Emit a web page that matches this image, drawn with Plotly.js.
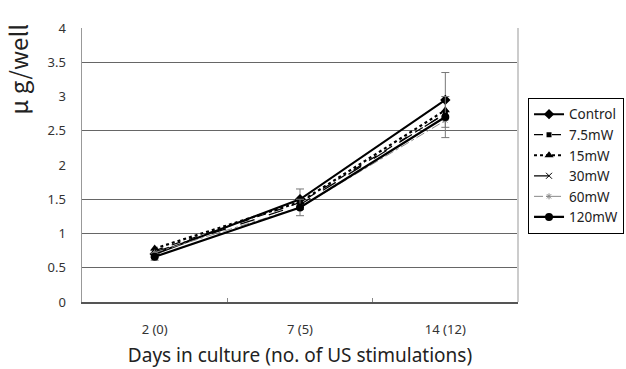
<!DOCTYPE html>
<html>
<head>
<meta charset="utf-8">
<script src="https://cdn.plot.ly/plotly-3.0.1.min.js"></script>
<style>html,body{margin:0;padding:0;background:#fff;}#chart{width:626px;height:369px;}</style>
</head>
<body>
<div id="chart"></div>
<script>
const categories = ["2 (0)", "7 (5)", "14 (12)"];
const seriesNames = ["Control", "7.5mW", "15mW", "30mW", "60mW", "120mW"];
const control = [0.70, 1.50, 2.95];
const mw7_5 = [0.75, 1.45, 2.75];
const mw15 = [0.78, 1.46, 2.80];
const mw30 = [0.73, 1.42, 2.75];
const mw60 = [0.72, 1.38, 2.65];
const mw120 = [0.66, 1.38, 2.70];
const controlErr = [0.05, 0.15, 0.40];
const mw120Err = [0.05, 0.12, 0.30];
const yTicks = [0, 0.5, 1, 1.5, 2, 2.5, 3, 3.5, 4];
const gridTicks = [0.5, 1, 1.5, 2.5, 3.5];

const styles = [
  {line:{color:'#000', width:2, dash:'solid'}, marker:{symbol:'diamond', size:8, color:'#000'}},
  {line:{color:'#000', width:1.2, dash:'dash'}, marker:{symbol:'square', size:5, color:'#000'}},
  {line:{color:'#000', width:2.2, dash:'dot'}, marker:{symbol:'triangle-up', size:8, color:'#000'}},
  {line:{color:'#000', width:1.3, dash:'longdash'}, marker:{symbol:'x-thin-open', size:6, color:'#000', line:{width:1, color:'#000'}}},
  {line:{color:'#888', width:1, dash:'dashdot'}, marker:{symbol:'asterisk-open', size:5, color:'#888', line:{width:1, color:'#888'}}},
  {line:{color:'#000', width:2.2, dash:'solid'}, marker:{symbol:'circle', size:8, color:'#000'}}
];
const values = [control, mw7_5, mw15, mw30, mw60, mw120];
const errs = {0: controlErr, 5: mw120Err};

const traces = [{
  type:'scatter', mode:'lines', x: categories, y: categories.map(() => null),
  yaxis:'y2', showlegend:false, hoverinfo:'skip', line:{width:0}
}];
values.forEach((v, i) => {
  const t = {
    type:'scatter', mode:'lines+markers', x: categories, y: v, name: seriesNames[i],
    line: styles[i].line, marker: styles[i].marker
  };
  if (errs[i]) {
    t.error_y = {type:'data', array: errs[i], visible:true, color:'#777', thickness:1, width:4};
  }
  traces.push(t);
});

const layout = {
  width: 626, height: 369,
  margin: {l:82, r:108, t:28, b:67, autoexpand:false},
  paper_bgcolor:'#fff', plot_bgcolor:'#fff',
  font: {family:'"Noto Sans", "Open Sans", sans-serif', color:'#333', size:13},
  showlegend: true,
  legend: {
    x: 1.023, y: 0.745, xanchor:'left', yanchor:'top',
    bordercolor:'#000', borderwidth:1, bgcolor:'#fff',
    font:{size:13.5, color:'#222'}, itemwidth:30, tracegroupgap:0
  },
  xaxis: {
    type:'category', range:[-0.5, 2.5], showgrid:false,
    showline:true, linecolor:'#555', linewidth:1.5,
    ticks:'inside', ticklen:4, tickcolor:'#888', tickson:'boundaries',
    ticklabelstandoff: 15,
    tickfont:{size:13, color:'#333'},
    title:{text:'Days in culture (no. of US stimulations)', font:{size:19, color:'#222'}, standoff:11},
    zeroline:false
  },
  yaxis: {
    range:[0, 4], tickvals: yTicks, showgrid:false,
    showline:true, linecolor:'#999', linewidth:1.5,
    ticks:'', ticklabelstandoff: 12,
    tickfont:{size:13, color:'#333'}, zeroline:false
  },
  yaxis2: {
    overlaying:'y', range:[0,4], tickvals: gridTicks, showticklabels:false,
    showgrid:true, gridcolor:'#666', gridwidth:1, showline:false, ticks:'', zeroline:false
  },
  shapes: [
    {type:'line', xref:'paper', yref:'paper', x0:1, x1:1, y0:0, y1:1, line:{color:'#ccc', width:2}}
  ],
  annotations: [
    {text:'μ g/well', xref:'paper', yref:'paper', x:-0.15, y:0.85, xanchor:'center', yanchor:'middle',
     textangle:-90, showarrow:false, font:{size:24, color:'#222', family:'"Noto Sans CJK JP", "Noto Sans", sans-serif'}}
  ]
};

Plotly.newPlot('chart', traces, layout, {displayModeBar:false, staticPlot:true});
</script>
</body>
</html>
